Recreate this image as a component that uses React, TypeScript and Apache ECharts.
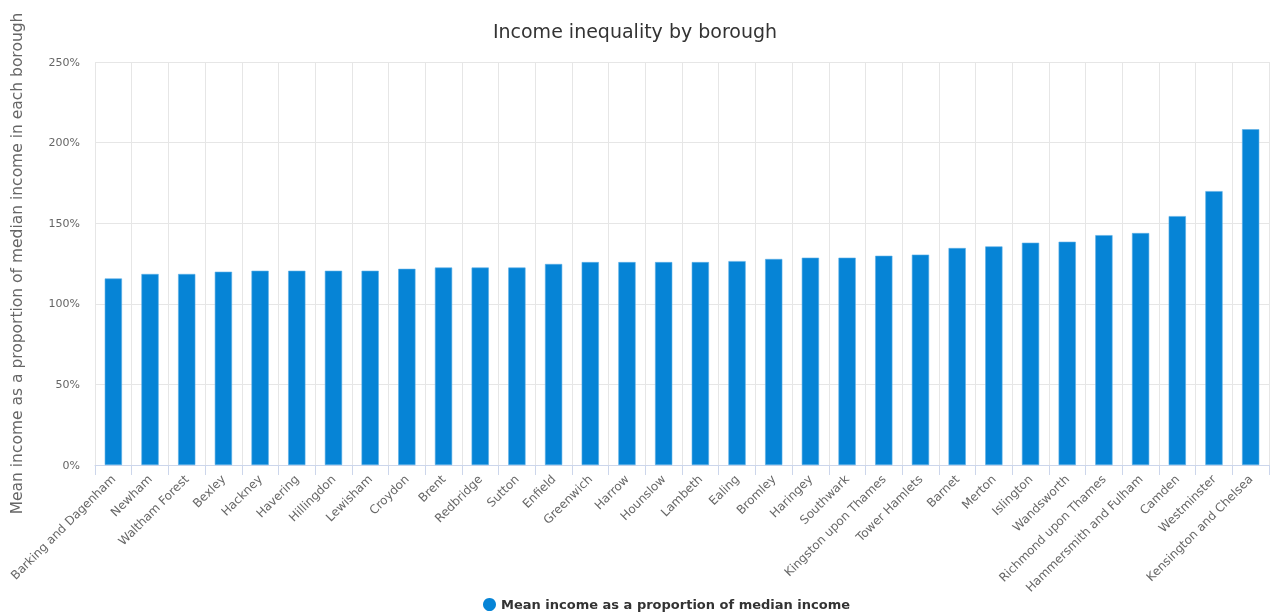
import React, { useEffect, useRef } from "react";
import * as echarts from "echarts";

const boroughs = [
  "Barking and Dagenham", "Newham", "Waltham Forest", "Bexley", "Hackney", "Havering",
  "Hillingdon", "Lewisham", "Croydon", "Brent", "Redbridge", "Sutton", "Enfield",
  "Greenwich", "Harrow", "Hounslow", "Lambeth", "Ealing", "Bromley", "Haringey",
  "Southwark", "Kingston upon Thames", "Tower Hamlets", "Barnet", "Merton", "Islington",
  "Wandsworth", "Richmond upon Thames", "Hammersmith and Fulham", "Camden", "Westminster",
  "Kensington and Chelsea",
];

const meanToMedian = [
  115.7, 118.5, 118.5, 119.9, 120.5, 120.5, 120.5, 120.5, 121.7, 122.5, 122.5, 122.5, 124.7,
  125.9, 125.9, 125.9, 125.9, 126.5, 127.8, 128.6, 128.6, 129.8, 130.5, 134.6, 135.6, 137.9,
  138.5, 142.6, 143.9, 154.4, 169.9, 208.3,
];

const seriesName = "Mean income as a proportion of median income";
const FONT = "DejaVu Sans, Verdana, sans-serif";

export default function App() {
  const ref = useRef<HTMLDivElement>(null);
  useEffect(() => {
    if (!ref.current) return;
    const chart = echarts.init(ref.current, undefined, { renderer: "svg" });
    chart.setOption({
      animation: false,
      textStyle: { fontFamily: FONT },
      title: {
        text: "Income inequality by borough",
        left: "center",
        top: 16,
        textStyle: { fontFamily: FONT, fontSize: 19, fontWeight: "normal", color: "#333333" },
      },
      legend: {
        top: 593,
        left: 478,
        padding: 5,
        icon: "circle",
        itemWidth: 13,
        itemHeight: 13,
        itemGap: 10,
        itemStyle: { borderWidth: 0, color: "#0684d6" },
        textStyle: { fontFamily: FONT, fontSize: 13, fontWeight: "bold", color: "#333333" },
        data: [seriesName],
      },
      grid: { left: 95, right: 1, top: 62, bottom: 149, outerBoundsMode: "none", containLabel: false },
      xAxis: {
        type: "category",
        data: boroughs,
        axisLine: { lineStyle: { color: "#ccd6eb" } },
        axisTick: { show: true, length: 10, lineStyle: { color: "#ccd6eb" } },
        splitLine: { show: true, lineStyle: { color: "#e6e6e6" } },
        axisLabel: {
          rotate: 45,
          interval: 0,
          color: "#666666",
          fontSize: 12,
          fontFamily: FONT,
          margin: 12,
        },
      },
      yAxis: {
        type: "value",
        min: 0,
        max: 250,
        interval: 50,
        name: "Mean income as a proportion of median income in each borough",
        nameLocation: "middle",
        nameGap: 70,
        nameTextStyle: { fontFamily: FONT, fontSize: 15.5, color: "#666666" },
        axisLine: { show: false },
        axisTick: { show: false },
        splitLine: { lineStyle: { color: "#e6e6e6" } },
        axisLabel: {
          formatter: "{value}%",
          color: "#666666",
          fontSize: 11,
          fontFamily: FONT,
          margin: 15,
        },
      },
      series: [
        {
          name: seriesName,
          type: "bar",
          data: meanToMedian,
          barWidth: "47%",
          itemStyle: { color: "#0684d6", borderColor: "#5aaee6", borderWidth: 0.6 },
        },
      ],
    });
    return () => chart.dispose();
  }, []);
  return (
    <div
      ref={ref}
      style={{ position: "fixed", left: 0, top: 0, width: 1270, height: 614 }}
    />
  );
}
